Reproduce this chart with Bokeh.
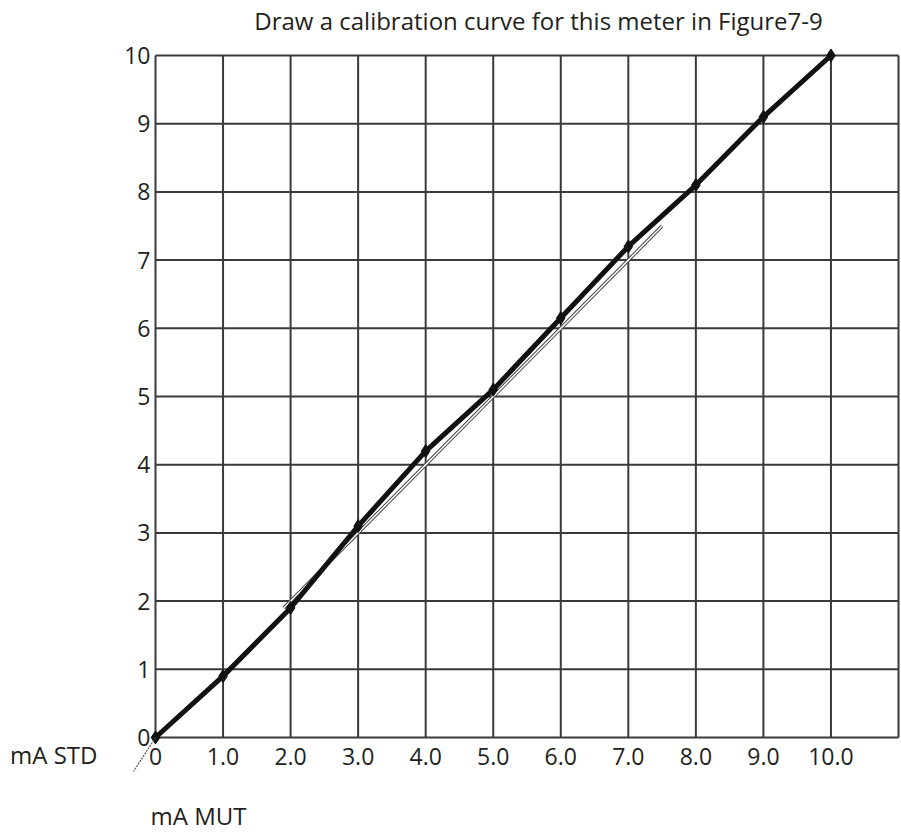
from bokeh.plotting import figure
from bokeh.models import Range1d
from bokeh.core.properties import value
from bokeh.embed import file_html
from bokeh.resources import INLINE

# ---- Data ----
mut = [0, 1, 2, 3, 4, 5, 6, 7, 8, 9, 10]
std = [0, 0.9, 1.9, 3.1, 4.2, 5.1, 6.15, 7.2, 8.1, 9.1, 10.0]
ideal_x = [1.9, 7.5]
ideal_y = [1.9, 7.5]
x_ticks = [0, 1, 2, 3, 4, 5, 6, 7, 8, 9, 10]
x_tick_labels = ["0", "1.0", "2.0", "3.0", "4.0", "5.0", "6.0", "7.0", "8.0", "9.0", "10.0"]
y_ticks = [0, 1, 2, 3, 4, 5, 6, 7, 8, 9, 10]
y_tick_labels = ["0", "1", "2", "3", "4", "5", "6", "7", "8", "9", "10"]
x_grid = [0, 1, 2, 3, 4, 5, 6, 7, 8, 9, 10, 11]
y_grid = [0, 1, 2, 3, 4, 5, 6, 7, 8, 9, 10]
title_text = "Draw a calibration curve for this meter in Figure7-9"
x_name = "mA MUT"
y_name = "mA STD"

# ---- Layout (pixels) ----
W, H = 900, 835
X0_PX, X11_PX = 155.0, 898.0     # grid x=0 and x=11
Y0_PX, Y10_PX = 737.0, 55.0      # grid y=0 and y=10
sx = (X11_PX - X0_PX) / 11.0
sy = (Y0_PX - Y10_PX) / 10.0

FONT = value("Open Sans")
TXT = "#231f20"
GRID = "#3a3a3a"

p = figure(width=W, height=H,
           x_range=Range1d(-X0_PX / sx, (W - X0_PX) / sx),
           y_range=Range1d(-(H - Y0_PX) / sy, 10 + Y10_PX / sy),
           output_backend="svg", toolbar_location=None,
           x_axis_type=None, y_axis_type=None,
           min_border=0, min_border_left=0, min_border_right=0,
           min_border_top=0, min_border_bottom=0)
p.outline_line_color = None
p.grid.visible = False

gx0 = min(x_grid); gx1 = max(x_grid)
gy0 = min(y_grid); gy1 = max(y_grid)

# grid lines
p.segment(x0=x_grid, y0=[gy0] * len(x_grid), x1=x_grid, y1=[gy1] * len(x_grid),
          line_color=GRID, line_width=2)
p.segment(x0=[gx0] * len(y_grid), y0=y_grid, x1=[gx1] * len(y_grid), y1=y_grid,
          line_color=GRID, line_width=2)

# tick labels
p.text(x=x_ticks, y=[-19 / sy] * len(x_ticks), text=x_tick_labels,
       text_align="center", text_baseline="middle", text_font=FONT,
       text_font_size="23px", text_color=TXT)
p.text(x=[-5 / sx] * len(y_ticks), y=y_ticks, text=y_tick_labels,
       text_align="right", text_baseline="middle", text_font=FONT,
       text_font_size="23px", text_color=TXT)

# ideal (outlined thin) line
p.line(ideal_x, ideal_y, line_color="#444444", line_width=3.5)
p.line(ideal_x, ideal_y, line_color="white", line_width=1.5)

# calibration curve
p.line(mut, std, line_color="#111111", line_width=5)
p.scatter(mut, std, marker="diamond", size=13, fill_color="#111111", line_color="#111111")

# origin stub
p.segment(x0=[0], y0=[0], x1=[-22 / sx], y1=[-34 / sy],
          line_color="#555555", line_width=1.2, line_dash="2 1")

# title and axis names
p.text(x=[(538 - X0_PX) / sx], y=[10 + (Y10_PX - 20) / sy], text=[title_text],
       text_align="center", text_baseline="middle", text_font=FONT,
       text_font_size="24px", text_color=TXT)
p.text(x=[-(X0_PX - 97) / sx], y=[-(754 - Y0_PX) / sy], text=[y_name],
       text_align="right", text_baseline="middle", text_font=FONT,
       text_font_size="24px", text_color=TXT)
p.text(x=[(198 - X0_PX) / sx], y=[-(815 - Y0_PX) / sy], text=[x_name],
       text_align="center", text_baseline="middle", text_font=FONT,
       text_font_size="24px", text_color=TXT)

open("out.html", "w").write(file_html(p, INLINE))
